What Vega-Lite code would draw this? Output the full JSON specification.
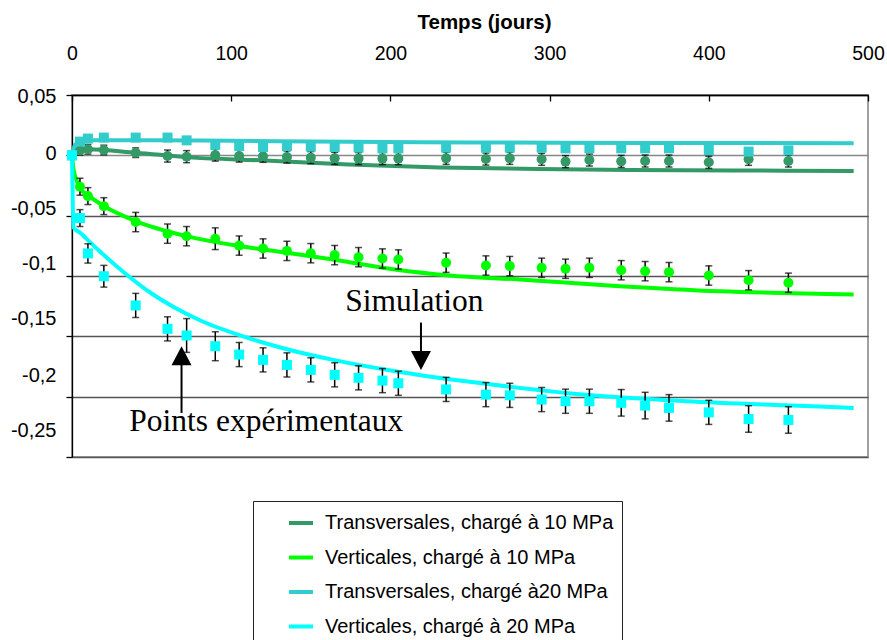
{
  "$schema": "https://vega.github.io/schema/vega-lite/v6.json",
  "width": 796,
  "height": 362,
  "autosize": {"type": "none"},
  "padding": {"left": 72, "top": 95, "right": 19, "bottom": 183},
  "background": "white",
  "config": {"view": {"stroke": "#a0a0a0", "strokeWidth": 2}, "font": "Liberation Sans"},
  "datasets": {
    "sim": [
      {"series": "Transversales, chargé à 10 MPa", "day": 0, "val": 0},
      {"series": "Transversales, chargé à 10 MPa", "day": 3, "val": 0.003},
      {"series": "Transversales, chargé à 10 MPa", "day": 10, "val": 0.005},
      {"series": "Transversales, chargé à 10 MPa", "day": 40, "val": 0.0022},
      {"series": "Transversales, chargé à 10 MPa", "day": 76, "val": -0.0019},
      {"series": "Transversales, chargé à 10 MPa", "day": 118, "val": -0.0041},
      {"series": "Transversales, chargé à 10 MPa", "day": 174, "val": -0.0075},
      {"series": "Transversales, chargé à 10 MPa", "day": 231, "val": -0.01},
      {"series": "Transversales, chargé à 10 MPa", "day": 293, "val": -0.0114},
      {"series": "Transversales, chargé à 10 MPa", "day": 350, "val": -0.0122},
      {"series": "Transversales, chargé à 10 MPa", "day": 415, "val": -0.0125},
      {"series": "Transversales, chargé à 10 MPa", "day": 491, "val": -0.013},
      {"series": "Verticales, chargé à 10 MPa", "day": 0, "val": 0},
      {"series": "Verticales, chargé à 10 MPa", "day": 1, "val": -0.012},
      {"series": "Verticales, chargé à 10 MPa", "day": 3, "val": -0.021},
      {"series": "Verticales, chargé à 10 MPa", "day": 5, "val": -0.027},
      {"series": "Verticales, chargé à 10 MPa", "day": 10, "val": -0.033},
      {"series": "Verticales, chargé à 10 MPa", "day": 20, "val": -0.042},
      {"series": "Verticales, chargé à 10 MPa", "day": 40, "val": -0.0545},
      {"series": "Verticales, chargé à 10 MPa", "day": 72, "val": -0.067},
      {"series": "Verticales, chargé à 10 MPa", "day": 105, "val": -0.0752},
      {"series": "Verticales, chargé à 10 MPa", "day": 135, "val": -0.0807},
      {"series": "Verticales, chargé à 10 MPa", "day": 165, "val": -0.0865},
      {"series": "Verticales, chargé à 10 MPa", "day": 205, "val": -0.095},
      {"series": "Verticales, chargé à 10 MPa", "day": 237, "val": -0.0995},
      {"series": "Verticales, chargé à 10 MPa", "day": 281, "val": -0.1029},
      {"series": "Verticales, chargé à 10 MPa", "day": 344, "val": -0.1084},
      {"series": "Verticales, chargé à 10 MPa", "day": 407, "val": -0.1126},
      {"series": "Verticales, chargé à 10 MPa", "day": 491, "val": -0.1153},
      {"series": "Transversales, chargé à20 MPa", "day": 0, "val": 0},
      {"series": "Transversales, chargé à20 MPa", "day": 2, "val": 0.009},
      {"series": "Transversales, chargé à20 MPa", "day": 10, "val": 0.0124},
      {"series": "Transversales, chargé à20 MPa", "day": 50, "val": 0.0126},
      {"series": "Transversales, chargé à20 MPa", "day": 100, "val": 0.012},
      {"series": "Transversales, chargé à20 MPa", "day": 174, "val": 0.0112},
      {"series": "Transversales, chargé à20 MPa", "day": 250, "val": 0.0107},
      {"series": "Transversales, chargé à20 MPa", "day": 350, "val": 0.0103},
      {"series": "Transversales, chargé à20 MPa", "day": 491, "val": 0.01},
      {"series": "Verticales, chargé à 20 MPa", "day": 0, "val": 0},
      {"series": "Verticales, chargé à 20 MPa", "day": 1, "val": -0.06},
      {"series": "Verticales, chargé à 20 MPa", "day": 5, "val": -0.064},
      {"series": "Verticales, chargé à 20 MPa", "day": 9, "val": -0.069},
      {"series": "Verticales, chargé à 20 MPa", "day": 17, "val": -0.079},
      {"series": "Verticales, chargé à 20 MPa", "day": 34, "val": -0.0985},
      {"series": "Verticales, chargé à 20 MPa", "day": 50, "val": -0.1145},
      {"series": "Verticales, chargé à 20 MPa", "day": 65, "val": -0.1265},
      {"series": "Verticales, chargé à 20 MPa", "day": 80, "val": -0.1365},
      {"series": "Verticales, chargé à 20 MPa", "day": 108, "val": -0.1503},
      {"series": "Verticales, chargé à 20 MPa", "day": 135, "val": -0.1607},
      {"series": "Verticales, chargé à 20 MPa", "day": 164, "val": -0.1695},
      {"series": "Verticales, chargé à 20 MPa", "day": 206, "val": -0.1795},
      {"series": "Verticales, chargé à 20 MPa", "day": 237, "val": -0.1855},
      {"series": "Verticales, chargé à 20 MPa", "day": 260, "val": -0.1893},
      {"series": "Verticales, chargé à 20 MPa", "day": 323, "val": -0.1985},
      {"series": "Verticales, chargé à 20 MPa", "day": 386, "val": -0.2038},
      {"series": "Verticales, chargé à 20 MPa", "day": 448, "val": -0.2072},
      {"series": "Verticales, chargé à 20 MPa", "day": 491, "val": -0.2093}
    ],
    "exp": [
      {"series": "Transversales, chargé à 10 MPa", "day": 0, "val": 0, "err": 0},
      {"series": "Transversales, chargé à 10 MPa", "day": 5, "val": 0.0041, "err": 0.004},
      {"series": "Transversales, chargé à 10 MPa", "day": 10, "val": 0.005, "err": 0.004},
      {"series": "Transversales, chargé à 10 MPa", "day": 20, "val": 0.0044, "err": 0.004},
      {"series": "Transversales, chargé à 10 MPa", "day": 40, "val": 0.0022, "err": 0.004},
      {"series": "Transversales, chargé à 10 MPa", "day": 60, "val": -0.0006, "err": 0.005},
      {"series": "Transversales, chargé à 10 MPa", "day": 72, "val": -0.0011, "err": 0.005},
      {"series": "Transversales, chargé à 10 MPa", "day": 90, "val": 0.0002, "err": 0.005},
      {"series": "Transversales, chargé à 10 MPa", "day": 105, "val": -0.0006, "err": 0.005},
      {"series": "Transversales, chargé à 10 MPa", "day": 120, "val": -0.0008, "err": 0.005},
      {"series": "Transversales, chargé à 10 MPa", "day": 135, "val": -0.0014, "err": 0.005},
      {"series": "Transversales, chargé à 10 MPa", "day": 150, "val": -0.0019, "err": 0.005},
      {"series": "Transversales, chargé à 10 MPa", "day": 165, "val": -0.0025, "err": 0.005},
      {"series": "Transversales, chargé à 10 MPa", "day": 180, "val": -0.0027, "err": 0.005},
      {"series": "Transversales, chargé à 10 MPa", "day": 195, "val": -0.0027, "err": 0.005},
      {"series": "Transversales, chargé à 10 MPa", "day": 205, "val": -0.0027, "err": 0.005},
      {"series": "Transversales, chargé à 10 MPa", "day": 235, "val": -0.0025, "err": 0.005},
      {"series": "Transversales, chargé à 10 MPa", "day": 260, "val": -0.0031, "err": 0.005},
      {"series": "Transversales, chargé à 10 MPa", "day": 275, "val": -0.0025, "err": 0.005},
      {"series": "Transversales, chargé à 10 MPa", "day": 295, "val": -0.0033, "err": 0.005},
      {"series": "Transversales, chargé à 10 MPa", "day": 310, "val": -0.0052, "err": 0.005},
      {"series": "Transversales, chargé à 10 MPa", "day": 325, "val": -0.0039, "err": 0.005},
      {"series": "Transversales, chargé à 10 MPa", "day": 345, "val": -0.005, "err": 0.005},
      {"series": "Transversales, chargé à 10 MPa", "day": 360, "val": -0.0047, "err": 0.005},
      {"series": "Transversales, chargé à 10 MPa", "day": 375, "val": -0.0047, "err": 0.005},
      {"series": "Transversales, chargé à 10 MPa", "day": 400, "val": -0.0058, "err": 0.005},
      {"series": "Transversales, chargé à 10 MPa", "day": 425, "val": -0.0033, "err": 0.005},
      {"series": "Transversales, chargé à 10 MPa", "day": 450, "val": -0.0047, "err": 0.005},
      {"series": "Verticales, chargé à 10 MPa", "day": 0, "val": 0, "err": 0},
      {"series": "Verticales, chargé à 10 MPa", "day": 5, "val": -0.026, "err": 0.007},
      {"series": "Verticales, chargé à 10 MPa", "day": 10, "val": -0.0338, "err": 0.007},
      {"series": "Verticales, chargé à 10 MPa", "day": 20, "val": -0.0421, "err": 0.007},
      {"series": "Verticales, chargé à 10 MPa", "day": 40, "val": -0.0553, "err": 0.008},
      {"series": "Verticales, chargé à 10 MPa", "day": 60, "val": -0.0649, "err": 0.008},
      {"series": "Verticales, chargé à 10 MPa", "day": 72, "val": -0.067, "err": 0.008},
      {"series": "Verticales, chargé à 10 MPa", "day": 90, "val": -0.0691, "err": 0.009},
      {"series": "Verticales, chargé à 10 MPa", "day": 105, "val": -0.0748, "err": 0.008},
      {"series": "Verticales, chargé à 10 MPa", "day": 120, "val": -0.0772, "err": 0.008},
      {"series": "Verticales, chargé à 10 MPa", "day": 135, "val": -0.0792, "err": 0.008},
      {"series": "Verticales, chargé à 10 MPa", "day": 150, "val": -0.0811, "err": 0.008},
      {"series": "Verticales, chargé à 10 MPa", "day": 165, "val": -0.0827, "err": 0.008},
      {"series": "Verticales, chargé à 10 MPa", "day": 180, "val": -0.0844, "err": 0.008},
      {"series": "Verticales, chargé à 10 MPa", "day": 195, "val": -0.0855, "err": 0.008},
      {"series": "Verticales, chargé à 10 MPa", "day": 205, "val": -0.0863, "err": 0.008},
      {"series": "Verticales, chargé à 10 MPa", "day": 235, "val": -0.089, "err": 0.008},
      {"series": "Verticales, chargé à 10 MPa", "day": 260, "val": -0.0913, "err": 0.008},
      {"series": "Verticales, chargé à 10 MPa", "day": 275, "val": -0.0918, "err": 0.008},
      {"series": "Verticales, chargé à 10 MPa", "day": 295, "val": -0.0932, "err": 0.008},
      {"series": "Verticales, chargé à 10 MPa", "day": 310, "val": -0.094, "err": 0.008},
      {"series": "Verticales, chargé à 10 MPa", "day": 325, "val": -0.0932, "err": 0.008},
      {"series": "Verticales, chargé à 10 MPa", "day": 345, "val": -0.0952, "err": 0.008},
      {"series": "Verticales, chargé à 10 MPa", "day": 360, "val": -0.096, "err": 0.008},
      {"series": "Verticales, chargé à 10 MPa", "day": 375, "val": -0.0968, "err": 0.008},
      {"series": "Verticales, chargé à 10 MPa", "day": 400, "val": -0.0996, "err": 0.008},
      {"series": "Verticales, chargé à 10 MPa", "day": 425, "val": -0.1035, "err": 0.008},
      {"series": "Verticales, chargé à 10 MPa", "day": 450, "val": -0.1056, "err": 0.008},
      {"series": "Transversales, chargé à20 MPa", "day": 0, "val": 0, "err": 0},
      {"series": "Transversales, chargé à20 MPa", "day": 5, "val": 0.0114, "err": 0.002},
      {"series": "Transversales, chargé à20 MPa", "day": 10, "val": 0.0139, "err": 0.002},
      {"series": "Transversales, chargé à20 MPa", "day": 20, "val": 0.0147, "err": 0.002},
      {"series": "Transversales, chargé à20 MPa", "day": 40, "val": 0.0147, "err": 0.002},
      {"series": "Transversales, chargé à20 MPa", "day": 60, "val": 0.0147, "err": 0.002},
      {"series": "Transversales, chargé à20 MPa", "day": 72, "val": 0.0124, "err": 0.002},
      {"series": "Transversales, chargé à20 MPa", "day": 90, "val": 0.0087, "err": 0.002},
      {"series": "Transversales, chargé à20 MPa", "day": 105, "val": 0.0077, "err": 0.002},
      {"series": "Transversales, chargé à20 MPa", "day": 120, "val": 0.0069, "err": 0.002},
      {"series": "Transversales, chargé à20 MPa", "day": 135, "val": 0.0077, "err": 0.002},
      {"series": "Transversales, chargé à20 MPa", "day": 150, "val": 0.0072, "err": 0.002},
      {"series": "Transversales, chargé à20 MPa", "day": 165, "val": 0.0069, "err": 0.002},
      {"series": "Transversales, chargé à20 MPa", "day": 180, "val": 0.0064, "err": 0.002},
      {"series": "Transversales, chargé à20 MPa", "day": 195, "val": 0.0058, "err": 0.002},
      {"series": "Transversales, chargé à20 MPa", "day": 205, "val": 0.0058, "err": 0.002},
      {"series": "Transversales, chargé à20 MPa", "day": 235, "val": 0.0064, "err": 0.002},
      {"series": "Transversales, chargé à20 MPa", "day": 260, "val": 0.0064, "err": 0.002},
      {"series": "Transversales, chargé à20 MPa", "day": 275, "val": 0.0064, "err": 0.002},
      {"series": "Transversales, chargé à20 MPa", "day": 295, "val": 0.0064, "err": 0.002},
      {"series": "Transversales, chargé à20 MPa", "day": 310, "val": 0.0058, "err": 0.002},
      {"series": "Transversales, chargé à20 MPa", "day": 325, "val": 0.0058, "err": 0.002},
      {"series": "Transversales, chargé à20 MPa", "day": 345, "val": 0.0058, "err": 0.002},
      {"series": "Transversales, chargé à20 MPa", "day": 360, "val": 0.0058, "err": 0.002},
      {"series": "Transversales, chargé à20 MPa", "day": 375, "val": 0.0058, "err": 0.002},
      {"series": "Transversales, chargé à20 MPa", "day": 400, "val": 0.0044, "err": 0.002},
      {"series": "Transversales, chargé à20 MPa", "day": 425, "val": 0.0031, "err": 0.002},
      {"series": "Transversales, chargé à20 MPa", "day": 450, "val": 0.0041, "err": 0.002},
      {"series": "Verticales, chargé à 20 MPa", "day": 0, "val": 0, "err": 0},
      {"series": "Verticales, chargé à 20 MPa", "day": 5, "val": -0.052, "err": 0.007},
      {"series": "Verticales, chargé à 20 MPa", "day": 10, "val": -0.0813, "err": 0.008},
      {"series": "Verticales, chargé à 20 MPa", "day": 20, "val": -0.1002, "err": 0.009},
      {"series": "Verticales, chargé à 20 MPa", "day": 40, "val": -0.1244, "err": 0.01},
      {"series": "Verticales, chargé à 20 MPa", "day": 60, "val": -0.1438, "err": 0.01},
      {"series": "Verticales, chargé à 20 MPa", "day": 72, "val": -0.1493, "err": 0.014},
      {"series": "Verticales, chargé à 20 MPa", "day": 90, "val": -0.1582, "err": 0.012},
      {"series": "Verticales, chargé à 20 MPa", "day": 105, "val": -0.1651, "err": 0.01},
      {"series": "Verticales, chargé à 20 MPa", "day": 120, "val": -0.1695, "err": 0.01},
      {"series": "Verticales, chargé à 20 MPa", "day": 135, "val": -0.1737, "err": 0.01},
      {"series": "Verticales, chargé à 20 MPa", "day": 150, "val": -0.1778, "err": 0.01},
      {"series": "Verticales, chargé à 20 MPa", "day": 165, "val": -0.1819, "err": 0.01},
      {"series": "Verticales, chargé à 20 MPa", "day": 180, "val": -0.1844, "err": 0.01},
      {"series": "Verticales, chargé à 20 MPa", "day": 195, "val": -0.1867, "err": 0.01},
      {"series": "Verticales, chargé à 20 MPa", "day": 205, "val": -0.1889, "err": 0.01},
      {"series": "Verticales, chargé à 20 MPa", "day": 235, "val": -0.194, "err": 0.01},
      {"series": "Verticales, chargé à 20 MPa", "day": 260, "val": -0.1983, "err": 0.01},
      {"series": "Verticales, chargé à 20 MPa", "day": 275, "val": -0.1989, "err": 0.01},
      {"series": "Verticales, chargé à 20 MPa", "day": 295, "val": -0.2024, "err": 0.01},
      {"series": "Verticales, chargé à 20 MPa", "day": 310, "val": -0.2038, "err": 0.01},
      {"series": "Verticales, chargé à 20 MPa", "day": 325, "val": -0.2038, "err": 0.01},
      {"series": "Verticales, chargé à 20 MPa", "day": 345, "val": -0.2051, "err": 0.011},
      {"series": "Verticales, chargé à 20 MPa", "day": 360, "val": -0.2074, "err": 0.011},
      {"series": "Verticales, chargé à 20 MPa", "day": 375, "val": -0.2093, "err": 0.011},
      {"series": "Verticales, chargé à 20 MPa", "day": 400, "val": -0.213, "err": 0.01},
      {"series": "Verticales, chargé à 20 MPa", "day": 425, "val": -0.2185, "err": 0.011},
      {"series": "Verticales, chargé à 20 MPa", "day": 450, "val": -0.2193, "err": 0.011}
    ],
    "notes": [
      {"day": 171.7, "val": -0.1292, "label": "Simulation"},
      {"day": 36, "val": -0.2282, "label": "Points expérimentaux"}
    ],
    "shafts": [
      {"day": 219.2, "val": -0.1386, "val2": -0.1626},
      {"day": 68.8, "val": -0.1734, "val2": -0.2135}
    ],
    "headDown": [{"day": 219.2, "val": -0.1701}],
    "headUp": [{"day": 68.8, "val": -0.1661}]
  },
  "encoding": {
    "x": {
      "field": "day",
      "type": "quantitative",
      "scale": {"domain": [0, 500], "nice": false, "zero": false},
      "axis": {
        "orient": "top",
        "values": [0, 100, 200, 300, 400, 500],
        "format": "d",
        "title": "Temps (jours)",
        "titleFont": "Liberation Sans",
        "titleFontWeight": "bold",
        "titleFontSize": 20.5,
        "titleColor": "black",
        "titleX": 412,
        "titleY": -73,
        "titleBaseline": "middle",
        "titleAlign": "center",
        "labelFont": "Liberation Sans",
        "labelFontSize": 19.5,
        "labelColor": "black",
        "labelFlush": false,
        "labelOverlap": false,
        "labelPadding": 38,
        "tickSize": -6,
        "tickColor": "black",
        "tickWidth": 1.3,
        "domainColor": "black",
        "domainWidth": 1.3,
        "grid": false
      }
    },
    "y": {
      "field": "val",
      "type": "quantitative",
      "scale": {"domain": [-0.25, 0.05], "nice": false, "zero": false},
      "axis": {
        "orient": "left",
        "values": [0.05, 0, -0.05, -0.1, -0.15, -0.2, -0.25],
        "title": null,
        "grid": true,
        "gridColor": {"condition": {"test": "datum.value === 0", "value": "#888888"}, "value": "#555555"},
        "gridWidth": 1.3,
        "domainColor": "black",
        "domainWidth": 1.3,
        "tickColor": "black",
        "tickWidth": 1.3,
        "tickSize": 6,
        "labelPadding": 10,
        "labelFont": "Liberation Sans",
        "labelFontSize": 20,
        "labelColor": "black",
        "labelBaseline": "middle",
        "labelOverlap": false,
        "labelFlush": false,
        "labelExpr": "replace(toString(round(datum.value*100)/100), '.', ',')",
        "labelOffset": {
          "condition": [
            {"test": "datum.value < -0.225", "value": -27},
            {"test": "datum.value < -0.175", "value": -21},
            {"test": "datum.value < -0.125", "value": -17.5},
            {"test": "datum.value < -0.075", "value": -12.5},
            {"test": "datum.value < -0.025", "value": -7.5},
            {"test": "datum.value < 0.025", "value": -2}
          ],
          "value": 1
        }
      }
    }
  },
  "layer": [
    {
      "data": {"name": "sim"},
      "mark": {"type": "line", "strokeWidth": 4, "interpolate": "monotone"},
      "encoding": {
        "color": {
          "field": "series",
          "type": "nominal",
          "scale": {
            "domain": ["Transversales, chargé à 10 MPa", "Verticales, chargé à 10 MPa", "Transversales, chargé à20 MPa", "Verticales, chargé à 20 MPa"],
            "range": ["#339966", "#00FF00", "#33CCCC", "#00FFFF"]
          },
          "legend": {
            "orient": "none",
            "legendX": 181,
            "legendY": 406,
            "title": null,
            "strokeColor": "#222222",
            "fillColor": "white",
            "padding": 8,
            "symbolType": "stroke",
            "symbolSize": 576,
            "symbolStrokeWidth": 4,
            "symbolOffset": 26,
            "labelOffset": 10,
            "labelFont": "Liberation Sans",
            "labelFontSize": 20,
            "labelColor": "black",
            "labelLimit": 500,
            "rowPadding": 10.5
          }
        }
      }
    },
    {
      "data": {"name": "exp"},
      "mark": {"type": "errorbar", "ticks": {"size": 7}, "thickness": 1.5, "color": "black"},
      "encoding": {
        "yError": {"field": "err"},
        "detail": {"field": "series"}
      }
    },
    {
      "data": {"name": "exp"},
      "transform": [{"filter": {"field": "series", "oneOf": ["Transversales, chargé à 10 MPa", "Verticales, chargé à 10 MPa"]}}],
      "mark": {"type": "circle", "opacity": 1, "size": 100},
      "encoding": {
        "color": {"field": "series", "type": "nominal", "legend": null}
      }
    },
    {
      "data": {"name": "exp"},
      "transform": [{"filter": {"field": "series", "oneOf": ["Transversales, chargé à20 MPa", "Verticales, chargé à 20 MPa"]}}],
      "mark": {"type": "square", "opacity": 1, "size": 100},
      "encoding": {
        "color": {"field": "series", "type": "nominal", "legend": null}
      }
    },
    {
      "data": {"name": "shafts"},
      "mark": {"type": "rule", "color": "black", "strokeWidth": 2},
      "encoding": {"y2": {"field": "val2"}}
    },
    {
      "data": {"name": "headDown"},
      "mark": {"type": "point", "filled": true, "color": "black", "opacity": 1, "size": 400, "strokeWidth": 0, "shape": "M -1 -0.95 L 1 -0.95 L 0 0.95 Z"},
      "encoding": {}
    },
    {
      "data": {"name": "headUp"},
      "mark": {"type": "point", "filled": true, "color": "black", "opacity": 1, "size": 400, "strokeWidth": 0, "shape": "M 0 -0.95 L 1 0.95 L -1 0.95 Z"},
      "encoding": {}
    },
    {
      "data": {"name": "notes"},
      "mark": {"type": "text", "font": "Liberation Serif", "fontSize": 31.5, "align": "left", "baseline": "alphabetic", "color": "black"},
      "encoding": {"text": {"field": "label"}}
    }
  ]
}
